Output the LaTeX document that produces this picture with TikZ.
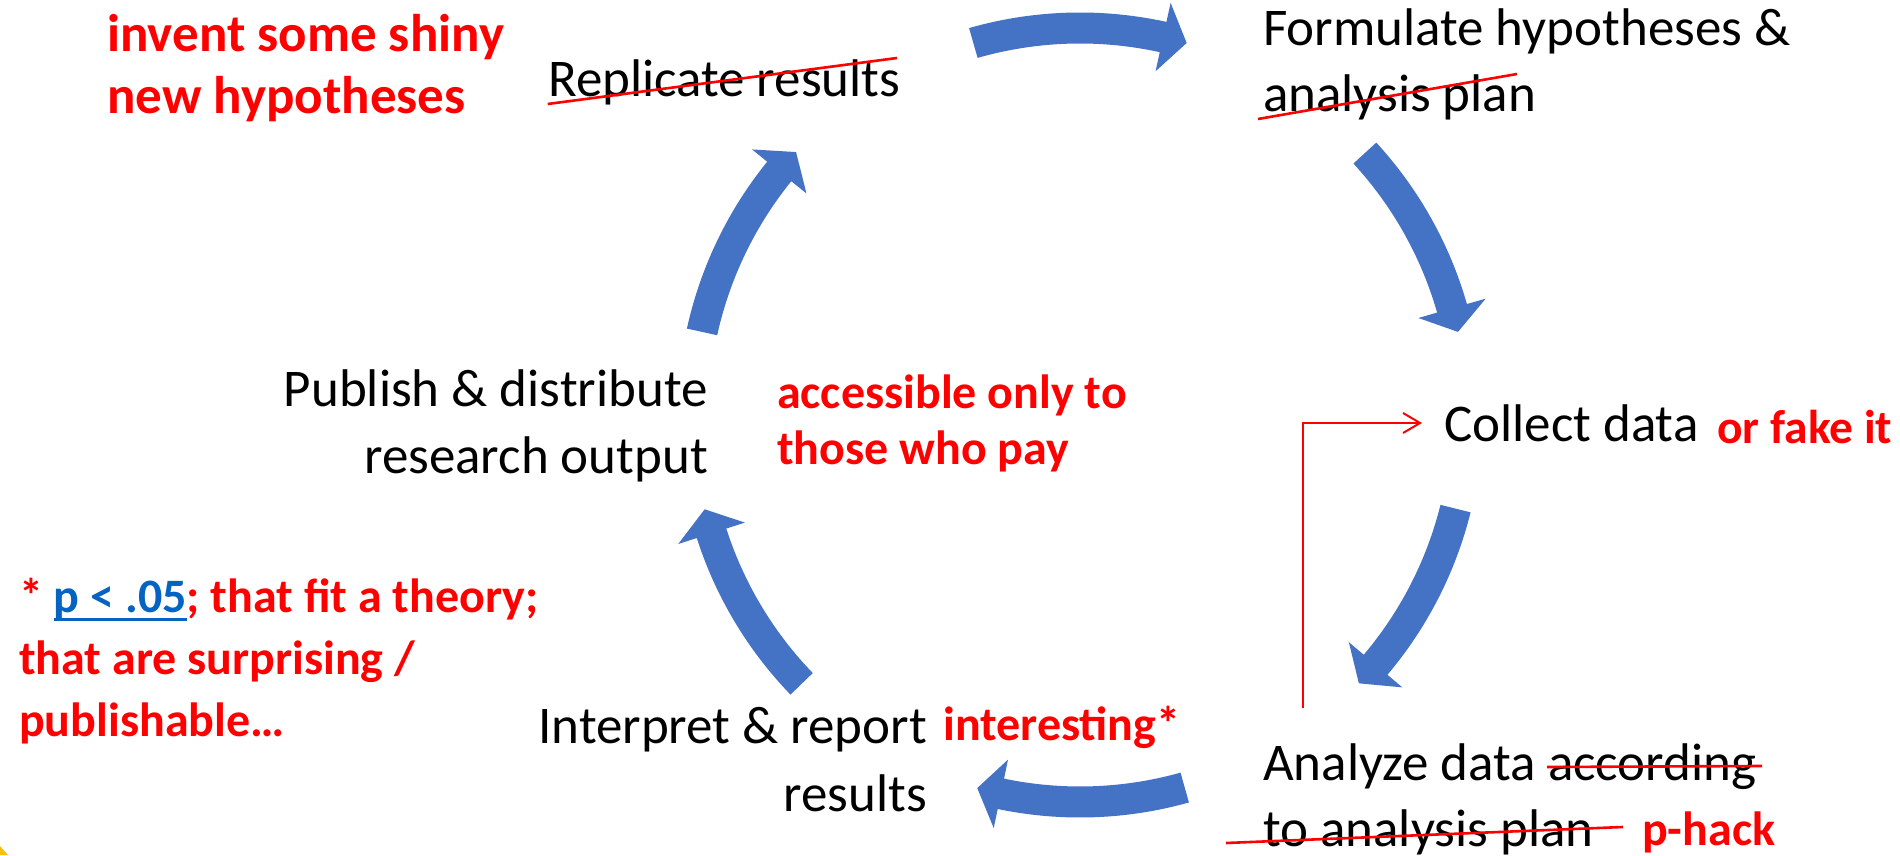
\documentclass[tikz,border=0pt]{standalone}
\usepackage{fontspec}
\setmainfont{Carlito}
\usetikzlibrary{arrows.meta,calc}
\definecolor{cycleblue}{HTML}{4472C4}
\definecolor{hackred}{HTML}{FF0000}
\definecolor{linkblue}{HTML}{0563C1}
\definecolor{cornergold}{HTML}{FFC000}
% underlined link-style text with a thick rule
\newcommand\linkul[1]{\setbox0\hbox{#1}\rlap{\rule[-9pt]{\wd0}{3pt}}\box0}
% curved block arrow around the hub: tail angle, head-base angle, tip angle
\newcommand\bentarrow[3]{%
  \fill[cycleblue] (#1:402.5) arc[start angle=#1, end angle=#2, radius=402.5]
    -- (#2:422) -- (#3:387) -- (#2:352) -- (#2:371.5)
    arc[start angle=#2, end angle=#1, radius=371.5] -- cycle;}
\begin{document}
\begin{tikzpicture}[x=1pt,y=1pt,
  steptext/.style={inner sep=0pt, font=\fontsize{53}{66}\selectfont, text=black},
  remark/.style={inner sep=0pt, font=\bfseries\fontsize{48}{57}\selectfont, text=hackred},
  strike/.style={draw=hackred, line width=2.6pt},
  hackline/.style={draw=hackred, line width=2pt, -{Straight Barb[length=17pt,width=20pt]}}]
\useasboundingbox (0,0) rectangle (1900,855);
\fill[white] (0,0) rectangle (1900,855);

% cycle steps
\node[steptext, anchor=base west] (replicate) at (548,758) {Replicate results};
\node[steptext, anchor=base west] (formulate) at (1263,809)
  {\begin{tabular}[t]{@{}l@{}}Formulate hypotheses \&\\analysis plan\end{tabular}};
\node[steptext, anchor=base west] (collect) at (1444,413) {Collect data};
\node[steptext, anchor=base west] (analyze) at (1263,75)
  {\begin{tabular}[t]{@{}l@{}}Analyze data according\\to analysis plan\end{tabular}};
\node[steptext, anchor=base east, font=\fontsize{53}{68}\selectfont] (interpret) at (927,112)
  {\begin{tabular}[t]{@{}r@{}}Interpret \& report\\results\end{tabular}};
\node[steptext, anchor=base east, font=\fontsize{53}{67}\selectfont] (publish) at (708,448)
  {\begin{tabular}[t]{@{}r@{}}Publish \& distribute\\research output\end{tabular}};

% annotations
\node[remark, anchor=base west, font=\bfseries\fontsize{53}{62}\selectfont] (invent) at (107,803)
  {\begin{tabular}[t]{@{}l@{}}invent some shiny\\new hypotheses\end{tabular}};
\node[remark, anchor=base west, font=\bfseries\fontsize{48}{56}\selectfont] (access) at (777,446)
  {\begin{tabular}[t]{@{}l@{}}accessible only to\\those who pay\end{tabular}};
\node[remark, anchor=base west] (interesting) at (943,115) {interesting*};
\node[remark, anchor=base west, font=\bfseries\fontsize{47.5}{57}\selectfont] (fake) at (1717,411) {or fake it};
\node[remark, anchor=base west] (phack) at (1642,10) {p-hack};
\node[remark, anchor=base west, font=\bfseries\fontsize{48}{62}\selectfont] (note) at (19,243)
  {\begin{tabular}[t]{@{}l@{}}* {\color{linkblue}\linkul{p < .05}}; that fit a theory;\\that are surprising /\\publishable…\end{tabular}};

% crossed-out wording
\draw[strike] (547.7,751) -- (897,797);
\draw[strike] (1258,736) -- (1517,781);
\draw[strike] (1547,88) -- (1762,89);
\draw[strike] (1226,12) -- (1623,28);

% shortcut from analysis back to data collection
\coordinate (hackfoot) at (1303,147);
\draw[hackline] (hackfoot) |- ($(collect.base west)+(-22,19)$);

% curved arrows of the cycle
\coordinate (hub) at (1080,440);
\begin{scope}[shift={(hub)}]
  \bentarrow{106}{77.6}{74}
  \bentarrow{42.6}{16}{12.4}
  \bentarrow{-14}{-40.2}{-43.9}
  \bentarrow{-74.3}{-101.8}{-105.4}
  \bentarrow{-136}{-162.2}{-165.9}
  \bentarrow{167.6}{141}{137.2}
\end{scope}

% corner accent
\fill[cornergold] (0,0) -- (0,9) -- (8,0) -- cycle;
\end{tikzpicture}
\end{document}
